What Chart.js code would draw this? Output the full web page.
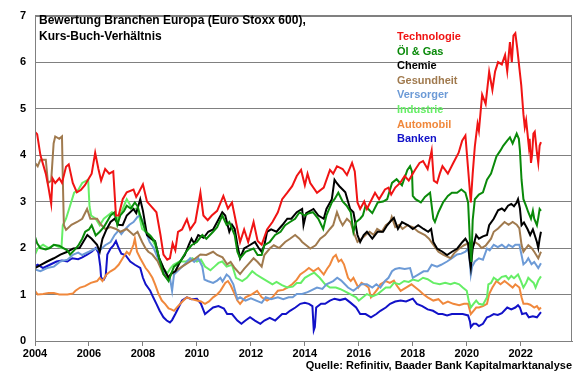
<!DOCTYPE html>
<html>
<head>
<meta charset="utf-8">
<script src="https://cdn.jsdelivr.net/npm/chart.js@4"></script>
<style>
  body { margin: 0; background: #fff; }
  canvas { display: block; }
</style>
</head>
<body>
<canvas id="kbvChart" width="580" height="375"></canvas>
<script>
// Kurs-Buch-Verhältnis je Branche, [Jahr, KBV]
const technologie = [[2004.0,4.5],[2004.08,4.45],[2004.2,4.0],[2004.3,3.8],[2004.4,3.6],[2004.5,3.3],[2004.6,2.95],[2004.65,3.5],[2004.75,3.4],[2004.9,3.5],[2005.0,3.4],[2005.15,3.75],[2005.25,3.8],[2005.4,3.4],[2005.55,3.2],[2005.7,3.25],[2005.85,3.35],[2006.0,3.5],[2006.1,3.6],[2006.23,4.05],[2006.35,3.7],[2006.45,3.45],[2006.6,3.7],[2006.75,3.6],[2006.9,3.65],[2007.0,2.7],[2007.1,2.7],[2007.25,3.05],[2007.4,3.2],[2007.65,3.26],[2007.75,3.1],[2007.85,3.2],[2008.0,3.37],[2008.15,3.0],[2008.3,2.9],[2008.5,2.77],[2008.65,2.28],[2008.76,1.86],[2008.9,1.75],[2009.0,1.78],[2009.1,2.1],[2009.2,1.95],[2009.3,2.35],[2009.45,2.4],[2009.63,2.62],[2009.75,2.4],[2009.94,2.56],[2010.13,3.19],[2010.24,2.7],[2010.4,2.6],[2010.55,2.7],[2010.75,2.8],[2010.98,3.12],[2011.15,2.85],[2011.3,2.98],[2011.5,2.41],[2011.6,2.13],[2011.75,2.4],[2011.9,2.13],[2012.1,2.56],[2012.25,2.15],[2012.4,2.07],[2012.6,2.4],[2012.8,2.56],[2013.0,2.77],[2013.16,3.05],[2013.35,3.19],[2013.53,3.33],[2013.7,3.55],[2013.86,3.68],[2014.0,3.35],[2014.1,3.6],[2014.2,3.4],[2014.45,3.19],[2014.7,3.3],[2014.93,3.68],[2015.05,3.6],[2015.19,3.76],[2015.4,3.7],[2015.56,3.57],[2015.75,3.83],[2015.85,3.65],[2015.95,2.98],[2016.05,2.84],[2016.2,3.0],[2016.3,2.84],[2016.6,3.19],[2016.75,3.05],[2016.97,3.26],[2017.1,3.3],[2017.2,3.15],[2017.35,3.3],[2017.53,3.4],[2017.7,3.55],[2017.85,3.45],[2018.08,3.68],[2018.25,3.83],[2018.38,3.87],[2018.55,3.7],[2018.7,4.1],[2018.78,3.45],[2018.9,3.4],[2019.0,3.6],[2019.1,3.76],[2019.3,3.6],[2019.5,3.83],[2019.7,4.05],[2019.83,4.31],[2019.95,4.42],[2020.05,3.7],[2020.15,2.98],[2020.22,3.6],[2020.3,4.19],[2020.4,4.67],[2020.45,4.52],[2020.57,5.3],[2020.7,5.1],[2020.83,5.79],[2020.95,5.4],[2021.05,5.8],[2021.16,6.0],[2021.3,5.95],[2021.42,6.15],[2021.5,5.8],[2021.6,6.43],[2021.67,6.0],[2021.73,6.57],[2021.8,6.62],[2021.87,6.3],[2021.95,5.87],[2022.02,5.5],[2022.1,4.88],[2022.15,4.6],[2022.2,4.75],[2022.3,4.19],[2022.33,4.35],[2022.38,3.83],[2022.42,4.0],[2022.47,4.46],[2022.52,4.5],[2022.6,4.05],[2022.65,3.83],[2022.7,4.2],[2022.75,4.28]];

const oelGas = [[2004.0,2.24],[2004.08,2.1],[2004.2,2.0],[2004.4,1.97],[2004.55,2.0],[2004.7,2.07],[2004.9,2.05],[2005.05,2.0],[2005.2,1.95],[2005.3,1.86],[2005.45,1.95],[2005.6,2.05],[2005.75,2.2],[2005.86,2.35],[2006.0,2.4],[2006.1,2.49],[2006.25,2.27],[2006.4,2.35],[2006.55,2.45],[2006.7,2.6],[2006.8,2.7],[2006.95,2.77],[2007.05,2.5],[2007.16,2.7],[2007.3,2.8],[2007.4,2.91],[2007.55,2.85],[2007.7,2.98],[2007.8,2.9],[2007.9,2.7],[2008.1,2.35],[2008.3,2.25],[2008.45,2.13],[2008.6,1.78],[2008.76,1.44],[2008.95,1.29],[2009.05,1.45],[2009.15,1.6],[2009.38,1.71],[2009.6,1.92],[2009.8,2.06],[2010.0,2.13],[2010.2,2.28],[2010.35,2.2],[2010.6,2.35],[2010.75,2.45],[2010.94,2.7],[2011.1,2.5],[2011.2,2.56],[2011.4,2.28],[2011.5,1.92],[2011.6,1.78],[2011.8,1.92],[2012.1,1.99],[2012.25,1.85],[2012.4,1.85],[2012.5,2.06],[2012.7,2.13],[2012.9,2.28],[2013.1,2.35],[2013.27,2.49],[2013.45,2.56],[2013.64,2.63],[2013.8,2.77],[2014.0,2.7],[2014.15,2.75],[2014.3,2.77],[2014.5,2.63],[2014.68,2.41],[2014.8,2.7],[2015.0,2.98],[2015.1,3.05],[2015.24,3.19],[2015.4,3.0],[2015.55,2.91],[2015.7,2.77],[2015.8,2.35],[2015.9,2.56],[2016.05,2.63],[2016.15,2.7],[2016.25,2.91],[2016.35,2.84],[2016.5,2.75],[2016.7,2.98],[2016.9,3.0],[2017.05,3.05],[2017.23,3.4],[2017.4,3.48],[2017.6,3.35],[2017.8,3.68],[2017.9,3.76],[2017.97,3.65],[2018.0,3.12],[2018.1,3.05],[2018.3,2.98],[2018.45,3.1],[2018.64,3.19],[2018.76,2.63],[2018.82,2.56],[2018.95,2.77],[2019.12,2.98],[2019.3,3.12],[2019.45,3.19],[2019.64,3.19],[2019.8,3.26],[2019.95,3.19],[2020.05,2.98],[2020.12,2.1],[2020.17,1.7],[2020.22,2.6],[2020.3,3.05],[2020.45,3.15],[2020.6,3.2],[2020.75,3.47],[2020.9,3.6],[2021.1,3.97],[2021.25,4.1],[2021.35,4.2],[2021.5,4.31],[2021.6,4.38],[2021.7,4.25],[2021.85,4.46],[2021.93,4.35],[2021.97,4.1],[2022.03,3.47],[2022.1,3.05],[2022.2,2.9],[2022.28,2.77],[2022.38,2.63],[2022.45,2.8],[2022.5,2.63],[2022.6,2.49],[2022.65,2.65],[2022.7,2.84],[2022.75,2.8]];

const chemie = [[2004.0,1.57],[2004.2,1.63],[2004.45,1.71],[2004.7,1.78],[2004.94,1.86],[2005.2,1.92],[2005.42,1.99],[2005.65,2.0],[2005.94,2.28],[2006.1,2.2],[2006.3,2.07],[2006.4,1.92],[2006.5,2.2],[2006.65,2.4],[2006.8,2.56],[2006.95,2.63],[2007.1,2.5],[2007.25,2.49],[2007.4,2.7],[2007.65,2.84],[2007.75,2.75],[2007.9,3.05],[2008.0,2.8],[2008.15,2.28],[2008.3,2.2],[2008.45,2.15],[2008.6,1.78],[2008.76,1.57],[2008.95,1.36],[2009.05,1.45],[2009.2,1.5],[2009.38,1.71],[2009.55,1.85],[2009.7,2.07],[2009.8,2.2],[2009.9,2.1],[2010.05,2.28],[2010.25,2.22],[2010.42,2.35],[2010.6,2.4],[2010.75,2.56],[2010.94,2.77],[2011.05,2.7],[2011.2,2.35],[2011.3,2.5],[2011.4,2.41],[2011.5,2.07],[2011.6,1.78],[2011.75,1.99],[2011.95,2.06],[2012.15,2.13],[2012.3,1.99],[2012.4,1.92],[2012.5,2.06],[2012.6,2.35],[2012.75,2.4],[2012.95,2.35],[2013.16,2.49],[2013.35,2.63],[2013.5,2.63],[2013.7,2.77],[2013.9,2.84],[2013.95,2.49],[2014.05,2.75],[2014.32,2.84],[2014.5,2.7],[2014.7,2.63],[2014.8,2.84],[2015.0,3.05],[2015.1,3.47],[2015.18,3.4],[2015.28,3.33],[2015.4,3.26],[2015.5,3.2],[2015.68,2.84],[2015.8,2.77],[2015.95,2.28],[2016.05,2.13],[2016.18,2.28],[2016.3,2.35],[2016.5,2.2],[2016.7,2.35],[2016.9,2.35],[2017.05,2.49],[2017.15,2.56],[2017.3,2.65],[2017.45,2.41],[2017.6,2.56],[2017.83,2.49],[2018.0,2.41],[2018.2,2.49],[2018.4,2.41],[2018.57,2.35],[2018.68,2.41],[2018.76,2.13],[2018.9,1.99],[2019.1,1.92],[2019.27,1.85],[2019.45,1.92],[2019.65,1.99],[2019.84,2.13],[2019.95,2.2],[2020.05,2.1],[2020.1,1.78],[2020.15,1.57],[2020.22,1.99],[2020.35,2.28],[2020.45,2.2],[2020.6,2.25],[2020.75,2.28],[2020.83,2.49],[2021.0,2.63],[2021.16,2.81],[2021.3,2.85],[2021.4,2.8],[2021.53,2.91],[2021.65,2.95],[2021.75,2.9],[2021.85,2.98],[2021.9,3.05],[2021.97,2.85],[2022.03,2.49],[2022.12,2.55],[2022.25,2.41],[2022.35,2.28],[2022.45,2.4],[2022.6,2.13],[2022.65,2.0],[2022.7,2.2],[2022.75,2.35]];

const gesundheit = [[2004.0,3.83],[2004.1,3.76],[2004.2,3.9],[2004.4,3.9],[2004.48,3.4],[2004.6,3.45],[2004.69,4.25],[2004.75,4.4],[2004.9,4.35],[2005.0,4.4],[2005.03,3.5],[2005.07,2.49],[2005.15,2.39],[2005.35,2.5],[2005.56,2.56],[2005.75,2.63],[2005.93,2.84],[2006.05,2.63],[2006.3,2.63],[2006.45,2.5],[2006.6,2.41],[2006.8,2.45],[2007.0,2.41],[2007.16,2.35],[2007.4,2.41],[2007.65,2.28],[2007.8,2.35],[2007.97,2.13],[2008.1,1.99],[2008.2,1.92],[2008.35,1.86],[2008.55,1.71],[2008.76,1.44],[2008.9,1.36],[2009.0,1.42],[2009.2,1.5],[2009.45,1.6],[2009.75,1.71],[2009.95,1.78],[2010.13,1.86],[2010.35,1.85],[2010.6,1.92],[2010.75,1.85],[2010.95,1.8],[2011.12,1.65],[2011.25,1.7],[2011.4,1.57],[2011.6,1.44],[2011.75,1.55],[2011.9,1.65],[2012.1,1.78],[2012.25,1.7],[2012.4,1.6],[2012.5,1.85],[2012.7,1.99],[2012.85,2.06],[2013.05,2.0],[2013.27,2.13],[2013.45,2.2],[2013.64,2.28],[2013.8,2.2],[2013.9,2.13],[2014.05,2.06],[2014.2,1.99],[2014.4,2.06],[2014.57,2.2],[2014.75,2.28],[2014.93,2.41],[2015.05,2.49],[2015.19,2.77],[2015.3,2.6],[2015.4,2.49],[2015.56,2.63],[2015.7,2.55],[2015.8,2.35],[2015.95,2.13],[2016.1,2.2],[2016.25,2.28],[2016.4,2.35],[2016.55,2.28],[2016.68,2.41],[2016.85,2.35],[2017.0,2.49],[2017.16,2.56],[2017.22,2.67],[2017.35,2.45],[2017.5,2.5],[2017.62,2.41],[2017.8,2.49],[2018.0,2.45],[2018.2,2.35],[2018.45,2.28],[2018.6,2.2],[2018.76,2.07],[2018.95,1.92],[2019.12,1.86],[2019.4,1.78],[2019.55,1.9],[2019.72,1.99],[2019.9,2.06],[2020.05,2.1],[2020.1,1.92],[2020.2,2.0],[2020.3,2.13],[2020.45,2.07],[2020.55,2.0],[2020.7,2.05],[2020.9,2.2],[2021.0,2.35],[2021.16,2.42],[2021.4,2.56],[2021.55,2.5],[2021.7,2.56],[2021.85,2.5],[2021.95,2.42],[2022.03,2.07],[2022.1,1.92],[2022.2,2.0],[2022.28,2.06],[2022.4,2.0],[2022.5,1.92],[2022.65,1.78],[2022.75,1.92]];

const versorger = [[2004.0,1.54],[2004.2,1.5],[2004.45,1.57],[2004.7,1.6],[2004.94,1.71],[2005.2,1.75],[2005.42,1.86],[2005.6,1.9],[2005.75,1.85],[2006.0,1.92],[2006.23,1.99],[2006.4,1.95],[2006.6,2.06],[2006.8,2.13],[2006.95,2.28],[2007.1,2.38],[2007.2,2.3],[2007.35,2.41],[2007.5,2.5],[2007.65,2.56],[2007.8,2.67],[2007.9,2.7],[2008.0,2.55],[2008.1,2.35],[2008.25,2.13],[2008.4,2.0],[2008.5,1.86],[2008.65,1.64],[2008.76,1.5],[2008.9,1.4],[2009.0,1.36],[2009.08,1.08],[2009.15,1.43],[2009.4,1.57],[2009.55,1.65],[2009.75,1.78],[2009.9,1.7],[2010.05,1.78],[2010.2,1.6],[2010.28,1.32],[2010.4,1.29],[2010.6,1.25],[2010.75,1.3],[2010.87,1.36],[2010.95,1.28],[2011.1,1.43],[2011.2,1.38],[2011.35,1.22],[2011.5,0.9],[2011.6,0.94],[2011.8,0.87],[2012.0,0.92],[2012.2,0.87],[2012.4,0.82],[2012.55,0.94],[2012.75,0.9],[2013.0,0.94],[2013.2,0.9],[2013.4,0.94],[2013.55,0.94],[2013.7,1.01],[2013.9,1.01],[2014.1,1.05],[2014.2,1.08],[2014.45,1.15],[2014.65,1.12],[2014.8,1.22],[2015.05,1.29],[2015.2,1.36],[2015.35,1.3],[2015.6,1.15],[2015.8,1.08],[2015.95,1.15],[2016.1,1.22],[2016.3,1.22],[2016.5,1.15],[2016.65,1.22],[2016.8,1.15],[2016.97,1.29],[2017.1,1.36],[2017.23,1.5],[2017.35,1.55],[2017.5,1.57],[2017.7,1.55],[2017.9,1.57],[2018.0,1.36],[2018.2,1.43],[2018.4,1.5],[2018.55,1.5],[2018.7,1.64],[2018.9,1.6],[2019.05,1.64],[2019.27,1.71],[2019.45,1.78],[2019.64,1.86],[2019.8,1.88],[2019.95,1.92],[2020.05,1.99],[2020.1,1.8],[2020.15,1.43],[2020.2,1.6],[2020.3,1.71],[2020.45,1.78],[2020.6,1.75],[2020.75,1.99],[2020.85,1.95],[2021.0,2.07],[2021.15,2.02],[2021.3,2.07],[2021.45,2.0],[2021.55,2.07],[2021.7,2.02],[2021.8,2.07],[2021.95,2.07],[2022.03,1.85],[2022.1,1.65],[2022.2,1.7],[2022.28,1.78],[2022.4,1.65],[2022.5,1.7],[2022.65,1.57],[2022.75,1.67]];

const industrie = [[2004.0,1.86],[2004.1,1.99],[2004.3,2.07],[2004.5,2.0],[2004.7,2.07],[2004.9,2.02],[2004.98,2.0],[2005.03,2.49],[2005.15,2.63],[2005.3,2.91],[2005.45,3.19],[2005.6,3.25],[2005.75,3.4],[2005.97,3.47],[2006.02,2.9],[2006.08,2.7],[2006.25,2.63],[2006.4,2.49],[2006.55,2.63],[2006.7,2.7],[2006.85,2.77],[2007.05,2.62],[2007.2,2.77],[2007.4,3.05],[2007.55,2.9],[2007.65,2.84],[2007.8,2.85],[2007.97,2.41],[2008.1,2.35],[2008.25,2.28],[2008.45,2.06],[2008.6,1.78],[2008.76,1.57],[2008.9,1.45],[2009.0,1.55],[2009.13,1.64],[2009.35,1.71],[2009.6,1.71],[2009.83,1.78],[2010.0,1.71],[2010.15,1.75],[2010.3,1.6],[2010.5,1.52],[2010.65,1.6],[2010.8,1.68],[2010.94,1.71],[2011.1,1.6],[2011.3,1.64],[2011.45,1.36],[2011.68,1.29],[2011.85,1.36],[2012.05,1.5],[2012.2,1.43],[2012.4,1.36],[2012.6,1.29],[2012.8,1.22],[2012.95,1.27],[2013.15,1.2],[2013.35,1.15],[2013.55,1.17],[2013.7,1.25],[2013.85,1.25],[2014.0,1.36],[2014.2,1.43],[2014.35,1.47],[2014.55,1.36],[2014.75,1.22],[2014.93,1.15],[2015.15,1.15],[2015.3,1.12],[2015.45,1.08],[2015.68,1.01],[2015.9,0.94],[2016.0,0.87],[2016.15,0.94],[2016.3,1.01],[2016.5,0.96],[2016.7,1.01],[2016.85,1.08],[2017.0,1.15],[2017.16,1.15],[2017.3,1.25],[2017.5,1.22],[2017.68,1.29],[2017.85,1.27],[2018.0,1.32],[2018.2,1.29],[2018.38,1.36],[2018.55,1.33],[2018.76,1.25],[2019.0,1.22],[2019.2,1.25],[2019.4,1.22],[2019.55,1.25],[2019.72,1.22],[2019.85,1.15],[2020.0,1.08],[2020.07,0.87],[2020.15,0.72],[2020.25,0.8],[2020.35,0.87],[2020.45,0.8],[2020.6,0.78],[2020.75,0.94],[2020.8,1.22],[2020.9,1.25],[2021.0,1.36],[2021.15,1.3],[2021.3,1.38],[2021.45,1.4],[2021.55,1.33],[2021.65,1.4],[2021.75,1.35],[2021.9,1.43],[2022.0,1.3],[2022.1,1.15],[2022.2,1.25],[2022.28,1.36],[2022.38,1.3],[2022.48,1.25],[2022.55,1.15],[2022.65,1.3],[2022.75,1.39]];

const automobil = [[2004.0,1.08],[2004.1,1.0],[2004.3,1.01],[2004.5,1.03],[2004.7,1.03],[2004.9,1.0],[2005.2,1.0],[2005.4,1.02],[2005.5,1.08],[2005.67,1.15],[2005.85,1.18],[2006.07,1.25],[2006.3,1.29],[2006.4,1.36],[2006.5,1.29],[2006.65,1.43],[2006.8,1.5],[2006.95,1.55],[2007.1,1.64],[2007.25,1.78],[2007.4,1.92],[2007.5,1.86],[2007.65,2.07],[2007.7,2.2],[2007.78,1.92],[2007.9,1.78],[2008.1,1.57],[2008.2,1.5],[2008.35,1.36],[2008.45,1.22],[2008.58,1.01],[2008.7,0.87],[2008.82,0.8],[2008.95,0.7],[2009.05,0.68],[2009.15,0.65],[2009.3,0.75],[2009.5,0.87],[2009.63,0.94],[2009.8,0.9],[2010.0,0.87],[2010.15,0.85],[2010.3,0.8],[2010.45,0.85],[2010.6,0.94],[2010.75,1.0],[2010.87,1.08],[2011.05,1.25],[2011.15,1.29],[2011.25,1.2],[2011.4,1.01],[2011.5,0.87],[2011.6,0.8],[2011.8,0.94],[2012.05,1.01],[2012.23,1.08],[2012.4,0.94],[2012.6,0.87],[2012.8,0.94],[2013.0,1.08],[2013.2,1.1],[2013.35,1.15],[2013.53,1.22],[2013.7,1.32],[2013.83,1.43],[2014.0,1.5],[2014.15,1.57],[2014.32,1.5],[2014.5,1.57],[2014.7,1.43],[2014.82,1.55],[2014.93,1.64],[2015.05,1.8],[2015.15,1.85],[2015.25,1.71],[2015.35,1.75],[2015.45,1.65],[2015.6,1.36],[2015.7,1.29],[2015.8,1.36],[2015.98,1.15],[2016.1,1.25],[2016.2,1.22],[2016.36,1.15],[2016.45,0.94],[2016.55,1.01],[2016.7,1.12],[2016.8,1.22],[2017.0,1.29],[2017.15,1.25],[2017.3,1.3],[2017.4,1.2],[2017.55,1.08],[2017.75,1.15],[2017.95,1.22],[2018.1,1.15],[2018.25,1.08],[2018.38,1.01],[2018.55,0.94],[2018.76,0.87],[2018.95,0.9],[2019.12,0.8],[2019.3,0.85],[2019.5,0.8],[2019.72,0.77],[2019.9,0.8],[2020.05,0.8],[2020.15,0.58],[2020.25,0.65],[2020.35,0.72],[2020.45,0.72],[2020.6,0.75],[2020.75,0.8],[2020.83,1.01],[2020.95,1.15],[2021.1,1.29],[2021.25,1.22],[2021.4,1.29],[2021.55,1.22],[2021.7,1.15],[2021.8,1.22],[2021.95,1.15],[2022.03,0.94],[2022.1,0.8],[2022.25,0.8],[2022.35,0.78],[2022.5,0.72],[2022.6,0.75],[2022.68,0.68],[2022.75,0.72]];

const banken = [[2004.0,1.61],[2004.1,1.64],[2004.3,1.57],[2004.55,1.64],[2004.8,1.71],[2005.0,1.73],[2005.2,1.71],[2005.38,1.78],[2005.6,1.76],[2005.75,1.8],[2005.93,1.86],[2006.1,1.92],[2006.25,2.0],[2006.35,1.9],[2006.42,1.6],[2006.45,1.36],[2006.55,1.32],[2006.62,1.4],[2006.68,1.86],[2006.8,1.99],[2006.9,2.05],[2007.0,2.15],[2007.1,2.0],[2007.2,1.88],[2007.35,1.85],[2007.53,1.71],[2007.7,1.64],[2007.9,1.57],[2008.0,1.36],[2008.1,1.22],[2008.27,1.08],[2008.38,0.94],[2008.5,0.8],[2008.62,0.65],[2008.76,0.51],[2008.88,0.44],[2009.0,0.4],[2009.08,0.45],[2009.2,0.58],[2009.32,0.72],[2009.45,0.87],[2009.63,0.94],[2009.8,0.9],[2010.0,0.91],[2010.15,0.8],[2010.3,0.58],[2010.45,0.65],[2010.6,0.72],[2010.8,0.75],[2011.0,0.7],[2011.12,0.58],[2011.3,0.58],[2011.5,0.44],[2011.65,0.37],[2011.8,0.44],[2011.97,0.51],[2012.15,0.44],[2012.35,0.37],[2012.5,0.44],[2012.7,0.5],[2012.9,0.44],[2013.16,0.58],[2013.3,0.58],[2013.45,0.65],[2013.65,0.72],[2013.83,0.8],[2014.0,0.82],[2014.15,0.8],[2014.28,0.75],[2014.33,0.23],[2014.37,0.3],[2014.42,0.72],[2014.6,0.8],[2014.75,0.8],[2014.93,0.87],[2015.1,0.91],[2015.3,0.88],[2015.5,0.91],[2015.7,0.82],[2015.9,0.72],[2016.05,0.58],[2016.25,0.58],[2016.45,0.51],[2016.65,0.58],[2016.8,0.65],[2017.0,0.72],[2017.16,0.8],[2017.35,0.85],[2017.55,0.87],[2017.75,0.85],[2018.0,0.91],[2018.15,0.8],[2018.35,0.75],[2018.55,0.68],[2018.75,0.65],[2018.95,0.58],[2019.1,0.58],[2019.27,0.55],[2019.45,0.58],[2019.65,0.58],[2019.85,0.58],[2020.05,0.55],[2020.12,0.42],[2020.15,0.3],[2020.25,0.37],[2020.35,0.37],[2020.45,0.32],[2020.6,0.37],[2020.75,0.51],[2020.85,0.53],[2021.0,0.58],[2021.15,0.56],[2021.3,0.6],[2021.5,0.72],[2021.65,0.68],[2021.8,0.72],[2021.9,0.77],[2021.97,0.72],[2022.05,0.58],[2022.2,0.6],[2022.3,0.51],[2022.45,0.53],[2022.6,0.51],[2022.75,0.62]];

const seriesNames = ['Technologie', 'Öl & Gas', 'Chemie', 'Gesundheit', 'Versorger', 'Industrie', 'Automobil', 'Banken'];
const seriesData = [technologie, oelGas, chemie, gesundheit, versorger, industrie, automobil, banken];
const seriesColors = ['#f01414', '#0a8a0a', '#000000', '#a07a4e', '#6c9ad6', '#66ee66', '#f0883c', '#1212c8'];

const yearTicks = [2004, 2006, 2008, 2010, 2012, 2014, 2016, 2018, 2020, 2022];
const titleLines = ['Bewertung Branchen Europa (Euro Stoxx 600),', 'Kurs-Buch-Verhältnis'];
const sourceText = 'Quelle: Refinitiv, Baader Bank Kapitalmarktanalyse';

const FONT = '"Liberation Sans", Arial, sans-serif';
const AXIS_GREY = '#808080';

// title, coloured legend texts, source line and the plot frame
const annotations = {
    id: 'annotations',
    afterDraw: function(chart) {
        const ctx = chart.ctx;
        const a = chart.chartArea;
        ctx.save();

        ctx.strokeStyle = AXIS_GREY;
        ctx.lineWidth = 1;
        ctx.strokeRect(Math.round(a.left) + 0.5, Math.round(a.top) + 0.5,
                       Math.round(a.right - a.left) - 1, Math.round(a.bottom - a.top));

        ctx.fillStyle = '#000';
        ctx.textAlign = 'left';
        ctx.textBaseline = 'alphabetic';
        ctx.font = 'bold 12px ' + FONT;
        titleLines.forEach((t, i) => ctx.fillText(t, a.left + 4, 24 + i * 16));

        ctx.font = 'bold 11px ' + FONT;
        seriesNames.forEach((n, i) => {
            ctx.fillStyle = seriesColors[i];
            ctx.fillText(n, 397, 40 + i * 14.6);
        });

        ctx.fillStyle = '#000';
        ctx.textAlign = 'right';
        ctx.fillText(sourceText, a.right, 369);
        ctx.restore();
    }
};

new Chart(document.getElementById('kbvChart'), {
    type: 'line',
    data: {
        datasets: seriesData.map((s, i) => ({
            label: seriesNames[i],
            data: s.map(p => ({x: p[0], y: p[1]})),
            borderColor: seriesColors[i],
            borderWidth: 2,
            pointRadius: 0,
            tension: 0,
            fill: false
        }))
    },
    options: {
        responsive: false,
        animation: false,
        devicePixelRatio: 1,
        layout: { padding: { top: 10, right: 8, left: 0, bottom: 0 } },
        plugins: { legend: { display: false }, tooltip: { enabled: false }, title: { display: false } },
        scales: {
            x: {
                type: 'linear', min: 2004, max: 2023.9,
                border: { color: AXIS_GREY },
                grid: { drawOnChartArea: false, drawTicks: true, tickLength: 5, color: AXIS_GREY },
                ticks: { color: '#000', font: { family: FONT, size: 11, weight: 'bold' }, padding: 1, maxRotation: 0, autoSkip: false,
                         callback: v => String(v) },
                afterBuildTicks: s => { s.ticks = yearTicks.map(v => ({ value: v })); },
                afterFit: s => { s.height = 34; }
            },
            y: {
                min: 0, max: 7,
                border: { color: AXIS_GREY },
                grid: { color: AXIS_GREY, drawTicks: false },
                ticks: { stepSize: 1, color: '#000', font: { family: FONT, size: 11, weight: 'bold' }, padding: 9 },
                afterFit: s => { s.width = 35; }
            }
        }
    },
    plugins: [annotations]
});
</script>
</body>
</html>
